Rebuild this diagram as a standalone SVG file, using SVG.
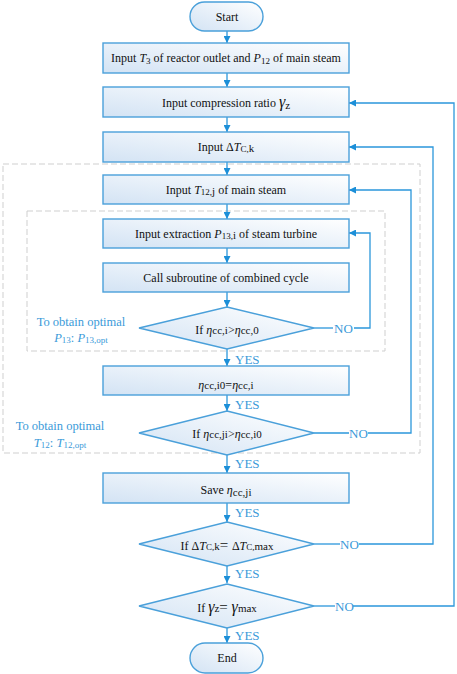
<svg xmlns="http://www.w3.org/2000/svg" width="457" height="674" viewBox="0 0 457 674">
<defs>
<linearGradient id="fill" x1="0" y1="1" x2="1" y2="0">
<stop offset="0" stop-color="#d3e3f4"/>
<stop offset="1" stop-color="#ffffff"/>
</linearGradient>
<marker id="ah" viewBox="0 0 10 10" refX="10" refY="5" markerWidth="7" markerHeight="7" markerUnits="userSpaceOnUse" orient="auto">
<path d="M0,0 L10,5 L0,10 z" fill="#1c8fd8"/>
</marker>
</defs>
<style>
.box{fill:url(#fill);stroke:#4aa0da;stroke-width:1.4}
.dash{fill:none;stroke:#cfcfcf;stroke-width:1;stroke-dasharray:6,3}
.ln{fill:none;stroke:#2b97db;stroke-width:1.3}
.ar{fill:none;stroke:#2b97db;stroke-width:1.3;marker-end:url(#ah)}
text{font-family:'Liberation Serif','DejaVu Serif','Times New Roman',serif}
.t{font-size:12px;fill:#111;text-anchor:middle}
.lb{font-size:13px;fill:#3a9ad9}
.lc{font-size:12.5px;fill:#3a9ad9;text-anchor:middle}
.i{font-style:italic}
.s{font-size:9px}
</style>
<rect class="dash" x="3" y="164" width="417" height="289"/>
<rect class="dash" x="27" y="211" width="358" height="140"/>
<g id="connectors">
<line class="ar" x1="227" y1="31" x2="227" y2="43"/>
<line class="ar" x1="227" y1="73" x2="227" y2="87"/>
<line class="ar" x1="227" y1="117" x2="227" y2="132"/>
<line class="ar" x1="227" y1="162" x2="227" y2="175"/>
<line class="ar" x1="227" y1="204" x2="227" y2="219"/>
<line class="ar" x1="227" y1="248" x2="227" y2="263"/>
<line class="ar" x1="227" y1="292" x2="227" y2="307"/>
<line class="ar" x1="227" y1="349" x2="227" y2="366"/>
<line class="ar" x1="227" y1="395" x2="227" y2="411"/>
<line class="ar" x1="227" y1="455" x2="227" y2="473"/>
<line class="ar" x1="227" y1="503" x2="227" y2="522"/>
<line class="ar" x1="227" y1="566" x2="227" y2="583"/>
<line class="ar" x1="227" y1="628" x2="227" y2="643"/>
<line class="ln" x1="314" y1="328" x2="333" y2="328"/>
<polyline class="ar" points="354,328 370,328 370,233 349,233"/>
<line class="ln" x1="314" y1="433" x2="349" y2="433"/>
<polyline class="ar" points="368,433 411,433 411,190 349,190"/>
<line class="ln" x1="314" y1="544" x2="340" y2="544"/>
<polyline class="ar" points="359,544 433,544 433,147 349,147"/>
<line class="ln" x1="314" y1="606" x2="335" y2="606"/>
<polyline class="ar" points="353,606 454,606 454,103 349,103"/>
<text class="lb" x="334" y="333">NO</text>
<text class="lb" x="349" y="438">NO</text>
<text class="lb" x="340" y="549">NO</text>
<text class="lb" x="335" y="611">NO</text>
<text class="lb" x="235" y="364">YES</text>
<text class="lb" x="235" y="409">YES</text>
<text class="lb" x="235" y="468">YES</text>
<text class="lb" x="235" y="517">YES</text>
<text class="lb" x="235" y="578">YES</text>
<text class="lb" x="235" y="640">YES</text>
</g>
<g id="start"><rect class="box" x="190" y="2" width="73" height="29" rx="14.5"/><text class="t" x="227" y="21">Start</text></g>
<g id="input-t3"><rect class="box" x="103" y="43" width="246" height="30"/><text class="t" x="226" y="62">Input <tspan class="i">T</tspan><tspan class="s" dy="2">3</tspan><tspan dy="-2"> of reactor outlet and </tspan><tspan class="i">P</tspan><tspan class="s" dy="2">12</tspan><tspan dy="-2"> of main steam</tspan></text></g>
<g id="input-gamma"><rect class="box" x="103" y="87" width="246" height="30"/><text class="t" x="226" y="107">Input compression ratio <tspan class="i" font-size="16">γ</tspan><tspan font-size="11" dy="2">z</tspan></text></g>
<g id="input-dtc"><rect class="box" x="103" y="132" width="246" height="30"/><text class="t" x="226" y="151">Input Δ<tspan class="i">T</tspan><tspan font-size="9" dy="1">C,</tspan><tspan font-size="11">k</tspan></text></g>
<g id="input-t12"><rect class="box" x="103" y="175" width="246" height="29"/><text class="t" x="226" y="194">Input <tspan class="i">T</tspan><tspan class="s" dy="1">12,</tspan><tspan font-size="11">j</tspan><tspan dy="-1"> of main steam</tspan></text></g>
<g id="input-p13"><rect class="box" x="103" y="219" width="246" height="29"/><text class="t" x="226" y="238">Input extraction <tspan class="i">P</tspan><tspan class="s" dy="1">13,</tspan><tspan font-size="11">i</tspan><tspan dy="-1"> of steam turbine</tspan></text></g>
<g id="call-sub"><rect class="box" x="103" y="263" width="246" height="29"/><text class="t" x="226" y="282">Call subroutine of combined cycle</text></g>
<g id="dec1"><polygon class="box" points="227,307 314,328 227,349 139,328"/><text class="t" x="227" y="334">If <tspan class="i">η</tspan><tspan font-size="11">cc,i</tspan>&gt;<tspan class="i">η</tspan><tspan font-size="11">cc,0</tspan></text></g>
<g id="assign"><rect class="box" x="103" y="366" width="246" height="29"/><text class="t" x="226" y="389"><tspan class="i">η</tspan><tspan font-size="11">cc,i0</tspan>=<tspan class="i">η</tspan><tspan font-size="11">cc,i</tspan></text></g>
<g id="dec2"><polygon class="box" points="227,411 314,433 227,455 139,433"/><text class="t" x="227" y="438">If <tspan class="i">η</tspan><tspan font-size="11">cc,ji</tspan>&gt;<tspan class="i">η</tspan><tspan font-size="11">cc,i0</tspan></text></g>
<g id="save"><rect class="box" x="103" y="473" width="246" height="30"/><text class="t" x="226" y="494">Save <tspan class="i">η</tspan><tspan font-size="11" dy="2">cc,ji</tspan></text></g>
<g id="dec3"><polygon class="box" points="227,522 314,544 227,566 139,544"/><text class="t" x="227" y="550">If Δ<tspan class="i">T</tspan><tspan font-size="9">C,</tspan><tspan font-size="11">k</tspan><tspan font-size="15">= </tspan>Δ<tspan class="i">T</tspan><tspan font-size="9">C,</tspan><tspan font-size="11">max</tspan></text></g>
<g id="dec4"><polygon class="box" points="227,584 314,606 227,628 139,606"/><text class="t" x="227" y="612">If <tspan class="i" font-size="16">γ</tspan><tspan font-size="11">z</tspan><tspan font-size="15">= </tspan><tspan class="i" font-size="16">γ</tspan><tspan font-size="11">max</tspan></text></g>
<g id="end"><rect class="box" x="190" y="643" width="73" height="30" rx="15"/><text class="t" x="227" y="662">End</text></g>
<g id="notes">
<text class="lc" x="81" y="326">To obtain optimal</text>
<text class="lc" x="81" y="342"><tspan class="i">P</tspan><tspan class="s" dy="1">13</tspan><tspan dy="-1">: </tspan><tspan class="i">P</tspan><tspan class="s" dy="1">13,opt</tspan></text>
<text class="lc" x="60" y="430">To obtain optimal</text>
<text class="lc" x="60" y="447"><tspan class="i">T</tspan><tspan class="s" dy="1">12</tspan><tspan dy="-1">: </tspan><tspan class="i">T</tspan><tspan class="s" dy="1">12,opt</tspan></text>
</g>
</svg>
